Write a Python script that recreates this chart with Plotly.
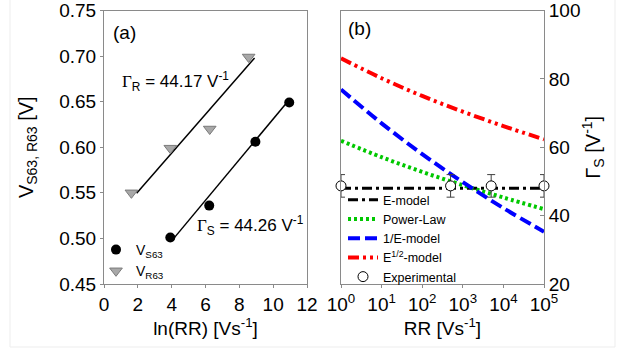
import plotly.graph_objects as go

W, H = 626, 352
FONT = "Liberation Sans, Arial, sans-serif"

# ---------------- Panel (a) data ----------------
lnRR_S = [3.92, 6.22, 8.95, 10.95]
V_S63 = [0.501, 0.536, 0.606, 0.649]
lnRR_R = [1.62, 3.92, 6.25, 8.55]
V_R63 = [0.550, 0.599, 0.620, 0.699]
fit_S_x = [4.10, 10.85]
fit_S_y = [0.4995, 0.650]
fit_R_x = [1.93, 8.90]
fit_R_y = [0.5495, 0.698]
gamma_R = "44.17"
gamma_S = "44.26"
x_ticks_a = [0, 2, 4, 6, 8, 10, 12]
y_ticks_a = [0.45, 0.50, 0.55, 0.60, 0.65, 0.70, 0.75]

# ---------------- Panel (b) data ----------------
RR_model = [1, 10, 100, 1000, 10000, 100000]
E_model = [48.0, 48.0, 48.0, 48.0, 48.0, 48.0]
power_law = [61.9, 57.1, 52.8, 48.9, 45.3, 41.9]
invE_model = [76.9, 67.0, 58.0, 49.8, 42.2, 35.3]
sqrtE_model = [86.0, 80.2, 75.0, 70.4, 66.2, 62.3]
RR_exp = [1, 500, 5000, 100000]
gamma_exp = [48.7, 48.7, 48.7, 48.7]
gamma_exp_err = [3.3, 3.3, 3.3, 3.3]
x_ticks_b = [1, 10, 100, 1000, 10000, 100000]
x_ticktext_b = ["10<sup>0</sup>", "10<sup>1</sup>", "10<sup>2</sup>",
                "10<sup>3</sup>", "10<sup>4</sup>", "10<sup>5</sup>"]
y_ticks_b = [20, 40, 60, 80, 100]

def px_x(p):
    return p / W

def px_y(p):
    return 1 - p / H

fig = go.Figure()

# Panel (a) traces
fig.add_trace(go.Scatter(x=fit_R_x, y=fit_R_y, mode="lines",
                         line=dict(color="black", width=1.5),
                         showlegend=False, xaxis="x", yaxis="y"))
fig.add_trace(go.Scatter(x=fit_S_x, y=fit_S_y, mode="lines",
                         line=dict(color="black", width=1.5),
                         showlegend=False, xaxis="x", yaxis="y"))
fig.add_trace(go.Scatter(x=lnRR_S, y=V_S63, mode="markers", name="V<sub>S63</sub>",
                         marker=dict(symbol="circle", size=10, color="black"),
                         legend="legend2", xaxis="x", yaxis="y"))
fig.add_trace(go.Scatter(x=lnRR_R, y=V_R63, mode="markers", name="V<sub>R63</sub>",
                         marker=dict(symbol="triangle-down", size=11, color="#a8a8a8",
                                     line=dict(color="#7a7a7a", width=1)),
                         legend="legend2", xaxis="x", yaxis="y"))

# Panel (b) traces
fig.add_trace(go.Scatter(x=RR_model, y=E_model, mode="lines", name="E-model",
                         line=dict(color="black", width=3, dash="10px,4px,3px,4px"),
                         xaxis="x2", yaxis="y2"))
fig.add_trace(go.Scatter(x=RR_model, y=power_law, mode="lines", name="Power-Law",
                         line=dict(color="#00c800", width=4, dash="3px,3px", shape="spline"),
                         xaxis="x2", yaxis="y2"))
fig.add_trace(go.Scatter(x=RR_model, y=invE_model, mode="lines", name="1/E-model",
                         line=dict(color="#0000ff", width=4, dash="12px,5px", shape="spline"),
                         xaxis="x2", yaxis="y2"))
fig.add_trace(go.Scatter(x=RR_model, y=sqrtE_model, mode="lines", name="E<sup>1/2</sup>-model",
                         line=dict(color="#ff0000", width=4, dash="11px,4px,3px,4px,3px,4px",
                                   shape="spline"),
                         xaxis="x2", yaxis="y2"))
fig.add_trace(go.Scatter(x=RR_exp, y=gamma_exp, mode="markers", name="Experimental",
                         marker=dict(symbol="circle", size=10, color="white",
                                     line=dict(color="black", width=1)),
                         error_y=dict(type="data", array=gamma_exp_err, color="#404040",
                                      thickness=1, width=4),
                         cliponaxis=False, xaxis="x2", yaxis="y2"))

axis_common = dict(showline=True, linecolor="#8a8a8a", linewidth=1, mirror=True,
                   showgrid=False, zeroline=False, tickcolor="#8a8a8a", automargin=False,
                   ticklabeloverflow="allow",
                   tickfont=dict(family=FONT, size=19, color="black"))

fig.update_layout(
    template="none",
    width=W, height=H,
    margin=dict(l=0, r=0, t=0, b=0, pad=0),
    paper_bgcolor="white", plot_bgcolor="white",
    font=dict(family=FONT, color="black"),
    xaxis=dict(domain=[px_x(104), px_x(307)], range=[0, 12], tickvals=x_ticks_a,
               ticks="outside", ticklen=3, anchor="y",
               title=dict(text="ln(RR) [Vs<sup>-1</sup>]", font=dict(size=19), standoff=5),
               **axis_common),
    yaxis=dict(domain=[px_y(284), px_y(10.5)], range=[0.45, 0.75], tickvals=y_ticks_a,
               tickformat=".2f", ticks="outside", ticklen=3, anchor="x",
               title=dict(text="V<sub>S63, R63</sub> [V]", font=dict(size=20), standoff=20),
               **axis_common),
    xaxis2=dict(domain=[px_x(341), px_x(544)], type="log", range=[0, 5],
                tickvals=x_ticks_b, ticktext=x_ticktext_b,
                ticks="outside", ticklen=3, anchor="y2",
                title=dict(text="RR [Vs<sup>-1</sup>]", font=dict(size=19), standoff=5),
                **axis_common),
    yaxis2=dict(domain=[px_y(284), px_y(10.5)], range=[20, 100], tickvals=y_ticks_b,
                side="right", ticks="inside", ticklen=4, anchor="x2",
                title=dict(text="\u0393<sub>S</sub> [V<sup>-1</sup>]", font=dict(size=20), standoff=6),
                **axis_common),
    legend=dict(x=px_x(343), y=px_y(185), xanchor="left", yanchor="top",
                bgcolor="rgba(0,0,0,0)", font=dict(family=FONT, size=12.5)),
    legend2=dict(x=px_x(96), y=px_y(234), xanchor="left", yanchor="top",
                 bgcolor="rgba(0,0,0,0)", font=dict(family=FONT, size=14)),
    showlegend=True,
)

serif = "font-family:'Liberation Serif','Times New Roman',serif"
fig.add_annotation(x=0.95, y=0.672, xref="x", yref="y", xanchor="left", yanchor="middle",
                   showarrow=False, font=dict(family=FONT, size=17),
                   text=f"<span style=\"{serif}\">\u0393</span><sub>R</sub> = {gamma_R} V<sup>-1</sup>")
fig.add_annotation(x=5.4, y=0.514, xref="x", yref="y", xanchor="left", yanchor="middle",
                   showarrow=False, font=dict(family=FONT, size=17),
                   text=f"<span style=\"{serif}\">\u0393</span><sub>S</sub> = {gamma_S} V<sup>-1</sup>")
fig.add_annotation(x=px_x(111), y=px_y(32.5), xref="paper", yref="paper",
                   xanchor="left", yanchor="middle", showarrow=False,
                   font=dict(family=FONT, size=19), text="(a)")
fig.add_annotation(x=px_x(346), y=px_y(28), xref="paper", yref="paper",
                   xanchor="left", yanchor="middle", showarrow=False,
                   font=dict(family=FONT, size=19), text="(b)")

# faint outer frame of the original figure
fig.add_shape(type="rect", xref="paper", yref="paper",
              x0=px_x(10), x1=px_x(615), y0=px_y(347), y1=px_y(-5),
              line=dict(color="#ededed", width=1), layer="below")

fig.write_html("out.html", config={"displayModeBar": False},
               post_script="document.body.style.margin='0';document.body.style.padding='0';")
